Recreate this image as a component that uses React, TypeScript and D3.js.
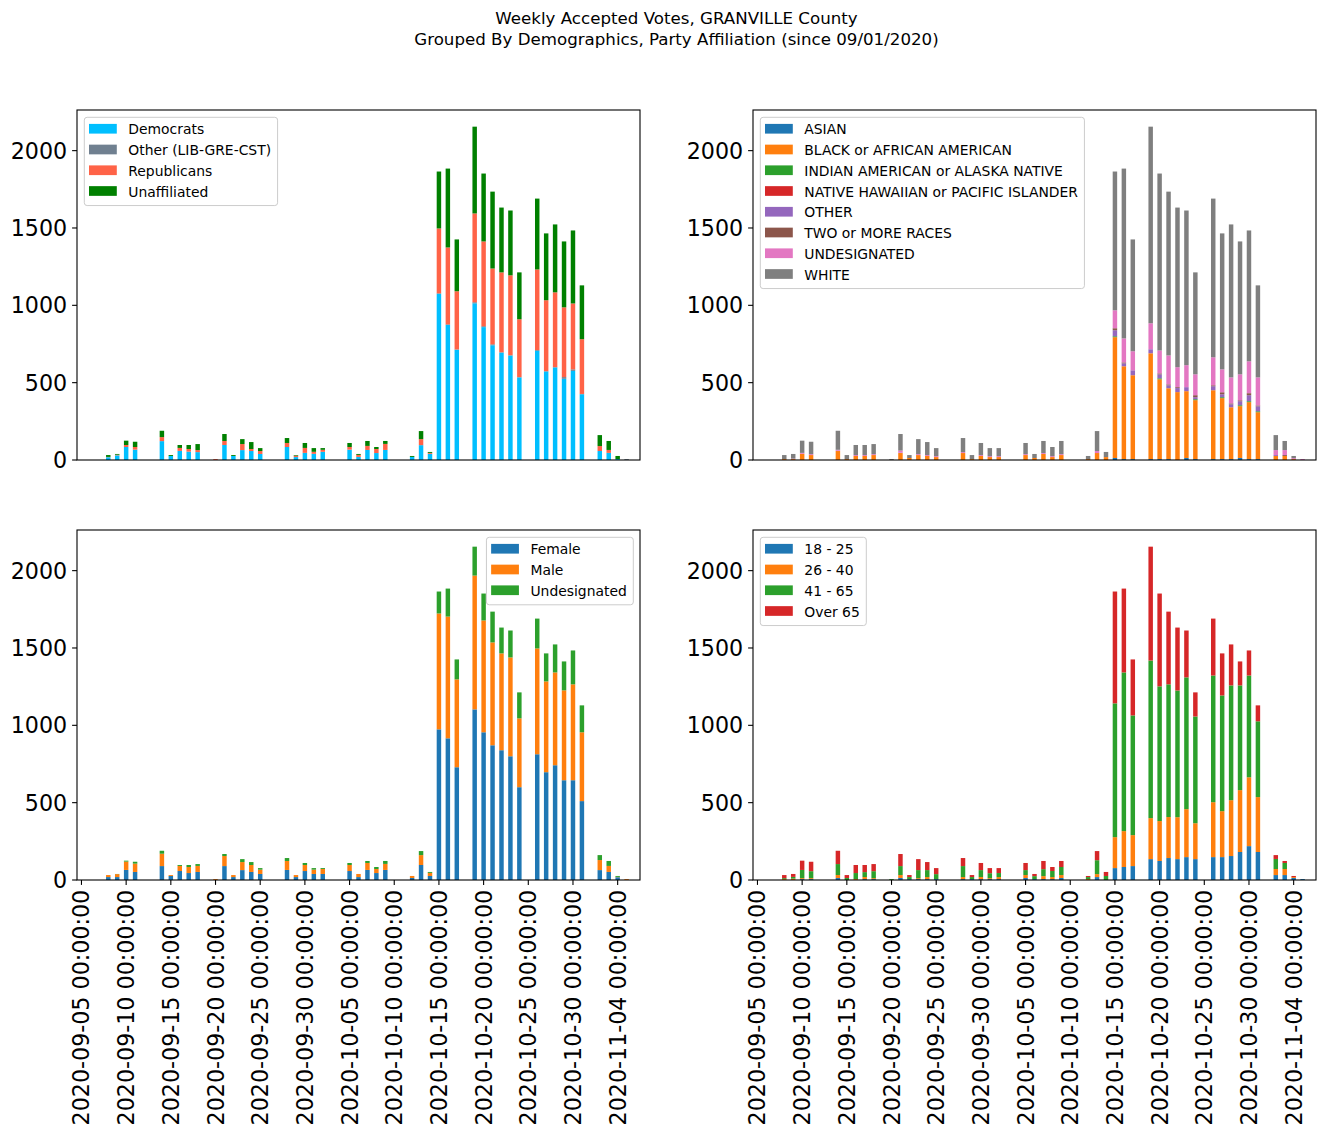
import React from 'react';
import * as d3 from 'd3';

const dates = [
  '2020-09-05','2020-09-06','2020-09-07','2020-09-08','2020-09-09','2020-09-10','2020-09-11','2020-09-12','2020-09-13','2020-09-14',
  '2020-09-15','2020-09-16','2020-09-17','2020-09-18','2020-09-19','2020-09-20','2020-09-21','2020-09-22','2020-09-23','2020-09-24',
  '2020-09-25','2020-09-26','2020-09-27','2020-09-28','2020-09-29','2020-09-30','2020-10-01','2020-10-02','2020-10-03','2020-10-04',
  '2020-10-05','2020-10-06','2020-10-07','2020-10-08','2020-10-09','2020-10-10','2020-10-11','2020-10-12','2020-10-13','2020-10-14',
  '2020-10-15','2020-10-16','2020-10-17','2020-10-18','2020-10-19','2020-10-20','2020-10-21','2020-10-22','2020-10-23','2020-10-24',
  '2020-10-25','2020-10-26','2020-10-27','2020-10-28','2020-10-29','2020-10-30','2020-10-31','2020-11-01','2020-11-02','2020-11-03',
  '2020-11-04','2020-11-05','2020-11-06',
];
const tickDates = ['2020-09-05','2020-09-10','2020-09-15','2020-09-20','2020-09-25','2020-09-30','2020-10-05','2020-10-10','2020-10-15','2020-10-20','2020-10-25','2020-10-30','2020-11-04'];
const yTicks = [0, 500, 1000, 1500, 2000];

const titleLines = ['Weekly Accepted Votes, GRANVILLE County', 'Grouped By Demographics, Party Affiliation (since 09/01/2020)'];

// Party affiliation
const democrats = [
  0,0,0,18,30,84,67,0,0,122,
  26,58,54,51,0,0,97,26,64,58,
  39,0,0,84,19,46,40,53,0,0,
  67,20,65,45,65,0,0,20,96,39,
  1074,873,712,0,1013,859,742,694,675,534,
  0,706,572,598,525,576,425,0,58,46,
  6,0,0];
const otherParty = [
  0,0,0,0,0,0,0,0,0,0,
  0,1,0,0,0,0,0,0,0,0,
  0,0,0,0,0,0,0,0,0,0,
  0,0,0,0,0,0,0,0,0,1,
  4,4,3,0,7,6,6,3,3,2,
  0,5,3,3,11,10,2,0,0,0,
  0,6,0];
const republicans = [
  0,0,0,2,4,13,17,0,0,26,
  0,19,17,13,0,6,26,0,39,13,
  19,0,0,26,9,32,13,13,0,0,
  17,13,26,26,39,0,0,0,39,6,
  419,497,376,0,574,548,490,516,516,374,
  0,521,458,483,451,426,354,0,32,19,
  0,0,0];
const unaffiliated = [
  0,0,0,12,5,28,34,0,0,41,
  6,19,26,39,0,0,45,6,32,45,
  19,0,0,32,4,32,24,11,0,0,
  26,6,32,13,19,0,0,6,52,6,
  368,510,335,0,561,439,497,419,419,303,
  0,458,432,439,426,472,348,0,71,58,
  20,0,0];

// Race
const asian = [
  0,0,0,0,0,0,0,0,0,0,
  0,0,0,0,0,0,0,0,0,0,
  0,0,0,0,0,0,0,0,0,0,
  0,0,0,0,0,0,0,0,0,0,
  13,6,6,0,6,6,6,0,13,6,
  0,6,6,6,13,6,6,0,0,0,
  0,0,0];
const black = [
  0,0,0,6,6,40,32,0,0,58,
  6,26,26,32,0,0,45,13,32,26,
  19,0,0,45,6,26,19,19,0,0,
  32,13,39,19,32,0,0,6,45,19,
  781,600,542,0,684,516,458,439,432,381,
  0,445,394,335,335,368,303,0,26,26,
  6,0,0];
const indian = [
  0,0,0,0,0,0,0,0,0,0,
  0,0,0,0,0,0,0,0,0,0,
  0,0,0,0,0,0,0,0,0,0,
  0,0,0,0,0,0,0,0,0,0,
  6,0,0,0,0,6,0,0,0,6,
  0,0,6,0,6,6,6,0,0,0,
  0,0,0];
const hawaiian = [
  0,0,0,0,0,0,0,0,0,0,
  0,0,0,0,0,0,0,0,0,0,
  0,0,0,0,0,0,0,0,0,0,
  0,0,0,0,0,0,0,0,0,0,
  0,0,0,0,0,0,0,0,0,0,
  0,0,0,0,0,0,0,0,0,0,
  0,0,0];
const otherRace = [
  0,0,0,0,0,0,0,0,0,2,
  0,0,0,0,0,0,3,0,0,0,
  0,0,0,0,0,0,0,0,0,0,
  0,0,0,0,0,0,0,0,0,0,
  39,19,32,0,26,26,19,26,26,13,
  0,26,19,19,26,39,32,0,6,0,
  0,0,0];
const twoOrMore = [
  0,0,0,0,0,0,0,0,0,0,
  0,0,0,0,0,0,0,0,0,0,
  0,0,0,0,0,0,0,0,0,0,
  0,0,0,0,0,0,0,0,0,0,
  13,6,0,0,0,6,6,6,0,13,
  0,6,13,6,6,13,6,0,0,6,
  0,0,0];
const undesRace = [
  0,0,0,0,3,6,6,0,0,6,
  0,6,6,6,0,0,13,0,6,6,
  6,0,0,6,0,6,6,6,0,0,
  6,0,6,6,6,0,0,0,13,0,
  116,155,123,0,168,148,187,129,142,135,
  0,181,148,168,168,206,181,0,32,32,
  6,6,0];
const white = [
  0,0,0,26,30,79,80,0,0,123,
  26,65,65,65,0,6,107,19,97,84,
  52,0,0,91,26,78,52,52,0,0,
  72,26,78,59,85,0,0,20,129,33,
  897,1098,723,0,1271,1144,1059,1032,1000,659,
  0,1026,879,989,859,846,595,0,97,59,
  14,0,0];

// Gender
const female = [
  0,0,0,19,19,65,52,0,0,90,
  26,58,45,52,0,0,90,19,64,52,
  39,0,0,65,19,58,39,39,0,0,
  58,19,65,45,65,0,0,13,97,26,
  974,916,729,0,1103,955,871,839,800,600,
  0,813,697,742,645,645,510,0,64,52,
  18,0,0];
const male = [
  0,0,0,13,19,54,54,0,0,80,
  6,33,39,39,0,6,65,13,52,45,
  28,0,0,58,13,39,28,32,0,0,
  39,20,45,26,39,0,0,13,64,20,
  749,787,568,0,865,723,665,626,639,445,
  0,684,587,600,581,620,445,0,65,39,
  2,6,0];
const undesGender = [
  0,0,0,0,1,6,12,0,0,19,
  0,6,13,12,0,0,13,0,19,19,
  10,0,0,19,0,13,10,6,0,0,
  13,0,13,13,19,0,0,0,26,6,
  142,181,129,0,187,174,199,167,174,168,
  0,193,181,181,187,219,174,0,32,32,
  6,0,0];

// Age
const age18to25 = [
  0,0,0,0,0,6,6,0,0,13,
  0,0,6,6,0,0,13,6,6,6,
  6,0,0,6,6,6,6,6,0,0,
  13,6,6,6,13,0,0,0,19,0,
  77,84,90,0,135,123,142,135,148,135,
  0,148,148,155,181,219,181,0,32,32,
  13,6,0];
const age26to40 = [
  0,0,0,6,9,6,6,0,0,19,
  0,6,13,6,0,0,19,0,6,13,
  0,0,0,13,0,13,6,13,0,0,
  19,0,19,13,19,0,0,6,19,0,
  200,232,200,0,265,258,265,271,310,232,
  0,355,297,361,400,445,355,0,39,39,
  6,0,0];
const age41to65 = [
  0,0,0,6,11,53,45,0,0,71,
  13,39,32,45,0,6,58,13,52,45,
  32,0,0,71,13,45,32,26,0,0,
  32,19,45,39,52,0,0,13,90,26,
  865,1026,774,0,1019,871,858,819,852,690,
  0,819,748,742,677,658,490,0,65,39,
  0,0,0];
const ageOver65 = [
  0,0,0,20,19,60,61,0,0,86,
  19,52,46,46,0,0,78,13,71,52,
  39,0,0,52,13,46,33,32,0,0,
  46,14,53,26,39,0,0,7,59,26,
  723,542,362,0,736,600,470,407,303,156,
  0,368,272,265,155,162,103,0,25,13,
  7,0,0];

type Series = { name: string; color: string; values: number[] };

const partySeries: Series[] = [
  { name: 'Democrats', color: '#00bfff', values: democrats },
  { name: 'Other (LIB-GRE-CST)', color: '#708090', values: otherParty },
  { name: 'Republicans', color: '#ff6347', values: republicans },
  { name: 'Unaffiliated', color: '#008000', values: unaffiliated },
];
const raceSeries: Series[] = [
  { name: 'ASIAN', color: '#1f77b4', values: asian },
  { name: 'BLACK or AFRICAN AMERICAN', color: '#ff7f0e', values: black },
  { name: 'INDIAN AMERICAN or ALASKA NATIVE', color: '#2ca02c', values: indian },
  { name: 'NATIVE HAWAIIAN or PACIFIC ISLANDER', color: '#d62728', values: hawaiian },
  { name: 'OTHER', color: '#9467bd', values: otherRace },
  { name: 'TWO or MORE RACES', color: '#8c564b', values: twoOrMore },
  { name: 'UNDESIGNATED', color: '#e377c2', values: undesRace },
  { name: 'WHITE', color: '#7f7f7f', values: white },
];
const genderSeries: Series[] = [
  { name: 'Female', color: '#1f77b4', values: female },
  { name: 'Male', color: '#ff7f0e', values: male },
  { name: 'Undesignated', color: '#2ca02c', values: undesGender },
];
const ageSeries: Series[] = [
  { name: '18 - 25', color: '#1f77b4', values: age18to25 },
  { name: '26 - 40', color: '#ff7f0e', values: age26to40 },
  { name: '41 - 65', color: '#2ca02c', values: age41to65 },
  { name: 'Over 65', color: '#d62728', values: ageOver65 },
];

const W = 1326, H = 1137;
const FONT = '"DejaVu Sans", sans-serif';
const PW = 563, PH = 350;
const TICK_FS = 22.2;
const LEG_FS = 13.9;

let measureCtx: CanvasRenderingContext2D | null = null;
function textWidth(s: string, size: number) {
  if (!measureCtx) {
    const c = document.createElement('canvas');
    measureCtx = c.getContext('2d');
  }
  if (!measureCtx) return s.length * size * 0.6;
  measureCtx.font = `${size}px "DejaVu Sans"`;
  return measureCtx.measureText(s).width;
}

function Panel({ left, top, series, legend, xlabels }: { left: number; top: number; series: Series[]; legend: 'ul' | 'ur'; xlabels: boolean }) {
  const n = dates.length;
  const x = d3.scaleLinear().domain([-0.5, n - 0.5]).range([left, left + PW]);
  const rows = dates.map((d, i) => {
    const o: Record<string, number> = {};
    series.forEach((s) => (o[s.name] = s.values[i]));
    return o;
  });
  const stacked = d3.stack<Record<string, number>>().keys(series.map((s) => s.name))(rows);
  const maxT = d3.max(dates, (_d, i) => d3.sum(series, (s) => s.values[i])) || 1;
  const y = d3.scaleLinear().domain([0, maxT * 1.05]).range([top + PH, top]);
  const bw = x(0.25) - x(-0.25);

  const maxText = d3.max(series, (s) => textWidth(s.name, LEG_FS)) || 0;
  const boxW = 44 + maxText + 6.5;
  const boxH = 12 + (series.length - 1) * 20.75 + 14;
  const boxL = legend === 'ul' ? left + 7.3 : left + PW - 6.7 - boxW;
  const boxT = top + 7.3;

  return (
    <g>
      {stacked.map((layer, li) => (
        <g key={li} fill={series[li].color}>
          {layer.map((seg, i) => {
            const h = y(seg[0]) - y(seg[1]);
            if (h <= 0) return null;
            return <rect key={i} x={x(i) - bw / 2} y={y(seg[1])} width={bw} height={h} />;
          })}
        </g>
      ))}
      <rect x={left} y={top} width={PW} height={PH} fill="none" stroke="#000" strokeWidth={1.1} />
      {yTicks.map((t) => (
        <g key={t}>
          <line x1={left - 4.9} x2={left} y1={y(t)} y2={y(t)} stroke="#000" strokeWidth={1.1} />
          <text x={left - 9.8} y={y(t)} textAnchor="end" dominantBaseline="central" fontSize={TICK_FS} fontFamily={FONT}>{t}</text>
        </g>
      ))}
      {xlabels && tickDates.map((td) => {
        const i = dates.indexOf(td);
        const xx = x(i);
        return (
          <g key={td}>
            <line x1={xx} x2={xx} y1={top + PH} y2={top + PH + 4.9} stroke="#000" strokeWidth={1.1} />
            <text transform={`translate(${xx},${top + PH + 9.8}) rotate(-90)`} textAnchor="end" dominantBaseline="central" fontSize={TICK_FS} fontFamily={FONT}>{td + ' 00:00:00'}</text>
          </g>
        );
      })}
      <g>
        <rect x={boxL} y={boxT} width={boxW} height={boxH} rx={2.8} ry={2.8} fill="#fff" fillOpacity={0.8} stroke="#cccccc" strokeWidth={1} />
        {series.map((s, k) => {
          const cy = boxT + 12 + k * 20.75;
          return (
            <g key={s.name}>
              <rect x={boxL + 4.7} y={cy - 5.4} width={27.8} height={9.7} fill={s.color} />
              <text x={boxL + 44} y={cy} dominantBaseline="central" fontSize={LEG_FS} fontFamily={FONT}>{s.name}</text>
            </g>
          );
        })}
      </g>
    </g>
  );
}

export default function App() {
  return (
    <svg width={W} height={H} style={{ position: 'absolute', left: 0, top: 0, background: '#fff' }}>
      <rect x={0} y={0} width={W} height={H} fill="#fff" />
      {titleLines.map((t, k) => (
        <text key={k} x={676.5} y={18 + k * 21} textAnchor="middle" dominantBaseline="central" fontSize={16.67} fontFamily={FONT}>{t}</text>
      ))}
      <Panel left={77} top={110} series={partySeries} legend="ul" xlabels={false} />
      <Panel left={753} top={110} series={raceSeries} legend="ul" xlabels={false} />
      <Panel left={77} top={530} series={genderSeries} legend="ur" xlabels={true} />
      <Panel left={753} top={530} series={ageSeries} legend="ul" xlabels={true} />
    </svg>
  );
}
